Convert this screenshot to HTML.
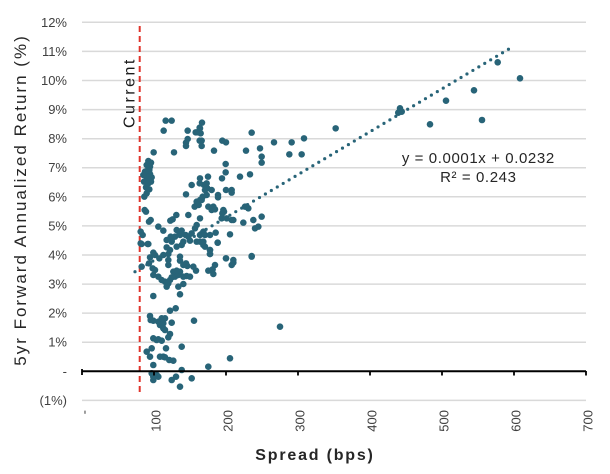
<!DOCTYPE html>
<html><head><meta charset="utf-8"><style>
html,body{margin:0;padding:0;background:#fff;}
svg{display:block;font-family:"Liberation Sans",Arial,sans-serif;}
</style></head><body>
<svg width="610" height="474" viewBox="0 0 610 474" xmlns="http://www.w3.org/2000/svg">
<g stroke="#d9d9d9" stroke-width="1.5">
<line x1="82" x2="586" y1="22.3" y2="22.3"/>
<line x1="82" x2="586" y1="51.4" y2="51.4"/>
<line x1="82" x2="586" y1="80.5" y2="80.5"/>
<line x1="82" x2="586" y1="109.6" y2="109.6"/>
<line x1="82" x2="586" y1="138.7" y2="138.7"/>
<line x1="82" x2="586" y1="167.7" y2="167.7"/>
<line x1="82" x2="586" y1="196.8" y2="196.8"/>
<line x1="82" x2="586" y1="225.9" y2="225.9"/>
<line x1="82" x2="586" y1="255" y2="255"/>
<line x1="82" x2="586" y1="284.1" y2="284.1"/>
<line x1="82" x2="586" y1="313.1" y2="313.1"/>
<line x1="82" x2="586" y1="342.2" y2="342.2"/>
<line x1="82" x2="586" y1="400.4" y2="400.4"/>
</g>
<g font-size="13" fill="#404040" text-anchor="end">
<text x="67" y="26.8">12%</text>
<text x="67" y="55.9">11%</text>
<text x="67" y="85">10%</text>
<text x="67" y="114.1">9%</text>
<text x="67" y="143.2">8%</text>
<text x="67" y="172.2">7%</text>
<text x="67" y="201.3">6%</text>
<text x="67" y="230.4">5%</text>
<text x="67" y="259.5">4%</text>
<text x="67" y="288.6">3%</text>
<text x="67" y="317.6">2%</text>
<text x="67" y="346.7">1%</text>
<text x="67" y="375.8">-</text>
<text x="67" y="404.9">(1%)</text>
</g>
<g font-size="13" fill="#404040" text-anchor="end">
<text transform="translate(88.5,410) rotate(-90)">-</text>
<text transform="translate(160.5,410) rotate(-90)">100</text>
<text transform="translate(232.5,410) rotate(-90)">200</text>
<text transform="translate(304.5,410) rotate(-90)">300</text>
<text transform="translate(376.5,410) rotate(-90)">400</text>
<text transform="translate(448.5,410) rotate(-90)">500</text>
<text transform="translate(520.5,410) rotate(-90)">600</text>
<text transform="translate(592.5,410) rotate(-90)">700</text>
</g>
<text x="315" y="460" font-size="16" font-weight="bold" letter-spacing="1.8" fill="#262626" text-anchor="middle">Spread (bps)</text>
<text transform="translate(26,200) rotate(-90)" font-size="17" letter-spacing="2" fill="#262626" text-anchor="middle">5yr Forward Annualized Return (%)</text>

<line x1="139.7" x2="139.7" y1="26" y2="393" stroke="#e0342b" stroke-width="2" stroke-dasharray="6 4"/>
<text transform="translate(134.5,128) rotate(-90)" font-size="16" letter-spacing="2.5" fill="#1a1a1a">Current</text>

<g fill="#286478">
<g transform="translate(100,100) scale(0.33333)">
<circle cx="197" cy="62" r="9.8"/><circle cx="215" cy="62" r="9.8"/><circle cx="191" cy="92" r="9.8"/><circle cx="222" cy="157" r="9.8"/><circle cx="161" cy="157" r="9.8"/><circle cx="299" cy="83" r="9.8"/><circle cx="291" cy="97" r="9.8"/><circle cx="263" cy="92" r="9.8"/><circle cx="287" cy="97" r="9.8"/><circle cx="263" cy="117" r="9.8"/><circle cx="258" cy="128" r="9.8"/><circle cx="258" cy="138" r="9.8"/><circle cx="299" cy="122" r="9.8"/>
<circle cx="145" cy="183" r="9.8"/><circle cx="153" cy="188" r="9.8"/><circle cx="140" cy="195" r="9.8"/><circle cx="148" cy="210" r="9.8"/><circle cx="137" cy="218" r="9.8"/><circle cx="150" cy="222" r="9.8"/><circle cx="140" cy="230" r="9.8"/><circle cx="155" cy="232" r="9.8"/><circle cx="132" cy="245" r="9.8"/><circle cx="145" cy="250" r="9.8"/><circle cx="138" cy="262" r="9.8"/><circle cx="148" cy="268" r="9.8"/><circle cx="140" cy="280" r="9.8"/><circle cx="133" cy="290" r="9.8"/><circle cx="142" cy="212" r="9.8"/><circle cx="153" cy="245" r="9.8"/><circle cx="135" cy="215" r="9.8"/><circle cx="145" cy="240" r="9.8"/><circle cx="150" cy="200" r="9.8"/><circle cx="130" cy="225" r="9.8"/>
<circle cx="299" cy="250" r="9.8"/><circle cx="275" cy="255" r="9.8"/><circle cx="258" cy="283" r="9.8"/><circle cx="300" cy="300" r="9.8"/><circle cx="290" cy="305" r="9.8"/><circle cx="284" cy="320" r="9.8"/><circle cx="296" cy="315" r="9.8"/>
<circle cx="265" cy="345" r="9.8"/><circle cx="218" cy="358" r="9.8"/><circle cx="211" cy="362" r="9.8"/><circle cx="229" cy="345" r="9.8"/><circle cx="134" cy="330" r="9.8"/><circle cx="138" cy="335" r="9.8"/><circle cx="147" cy="365" r="9.8"/><circle cx="152" cy="360" r="9.8"/><circle cx="175" cy="380" r="9.8"/><circle cx="190" cy="392" r="9.8"/>
<circle cx="230" cy="390" r="9.8"/><circle cx="245" cy="392" r="9.8"/><circle cx="238" cy="397" r="9.8"/><circle cx="240" cy="405" r="9.8"/><circle cx="225" cy="410" r="9.8"/><circle cx="212" cy="410" r="9.8"/><circle cx="215" cy="420" r="9.8"/><circle cx="200" cy="420" r="9.8"/><circle cx="257" cy="405" r="9.8"/><circle cx="265" cy="410" r="9.8"/><circle cx="275" cy="400" r="9.8"/><circle cx="285" cy="385" r="9.8"/><circle cx="290" cy="375" r="9.8"/><circle cx="300" cy="405" r="9.8"/>
<circle cx="122" cy="395" r="9.8"/><circle cx="128" cy="405" r="9.8"/><circle cx="122" cy="430" r="9.8"/><circle cx="143" cy="432" r="9.8"/>
</g>
<g transform="translate(100,240) scale(0.33333)">
<circle cx="125" cy="12" r="9.8"/><circle cx="145" cy="12" r="9.8"/><circle cx="160" cy="38" r="9.8"/><circle cx="150" cy="52" r="9.8"/><circle cx="165" cy="45" r="9.8"/><circle cx="178" cy="55" r="9.8"/><circle cx="190" cy="45" r="9.8"/><circle cx="205" cy="42" r="9.8"/><circle cx="210" cy="30" r="9.8"/><circle cx="200" cy="22" r="9.8"/><circle cx="205" cy="60" r="9.8"/><circle cx="205" cy="75" r="9.8"/><circle cx="215" cy="5" r="9.8"/><circle cx="230" cy="20" r="9.8"/><circle cx="245" cy="15" r="9.8"/><circle cx="250" cy="5" r="9.8"/><circle cx="270" cy="2" r="9.8"/><circle cx="290" cy="5" r="9.8"/><circle cx="300" cy="5" r="9.8"/><circle cx="310" cy="15" r="9.8"/><circle cx="330" cy="30" r="9.8"/><circle cx="330" cy="42" r="9.8"/><circle cx="353" cy="8" r="9.8"/><circle cx="378" cy="55" r="9.8"/><circle cx="400" cy="68" r="9.8"/><circle cx="395" cy="75" r="9.8"/><circle cx="455" cy="50" r="9.8"/><circle cx="240" cy="50" r="9.8"/><circle cx="240" cy="62" r="9.8"/><circle cx="250" cy="75" r="9.8"/><circle cx="262" cy="78" r="9.8"/><circle cx="258" cy="70" r="9.8"/><circle cx="280" cy="80" r="9.8"/><circle cx="288" cy="92" r="9.8"/><circle cx="345" cy="75" r="9.8"/><circle cx="338" cy="88" r="9.8"/><circle cx="325" cy="92" r="9.8"/><circle cx="340" cy="102" r="9.8"/>
<circle cx="125" cy="80" r="9.8"/><circle cx="147" cy="70" r="9.8"/><circle cx="158" cy="85" r="9.8"/><circle cx="165" cy="90" r="9.8"/><circle cx="160" cy="105" r="9.8"/><circle cx="175" cy="110" r="9.8"/><circle cx="185" cy="120" r="9.8"/><circle cx="195" cy="125" r="9.8"/><circle cx="205" cy="130" r="9.8"/><circle cx="210" cy="120" r="9.8"/><circle cx="215" cy="112" r="9.8"/><circle cx="225" cy="110" r="9.8"/><circle cx="235" cy="105" r="9.8"/><circle cx="240" cy="95" r="9.8"/><circle cx="250" cy="110" r="9.8"/><circle cx="260" cy="108" r="9.8"/><circle cx="270" cy="110" r="9.8"/><circle cx="232" cy="100" r="9.8"/><circle cx="220" cy="95" r="9.8"/><circle cx="230" cy="92" r="9.8"/><circle cx="200" cy="140" r="9.8"/><circle cx="250" cy="132" r="9.8"/><circle cx="235" cy="140" r="9.8"/>
</g>
<g>
<circle cx="153.3" cy="296" r="3.3"/><circle cx="180" cy="294.3" r="3.3"/>
<circle cx="170" cy="310.7" r="3.3"/><circle cx="175.7" cy="308.3" r="3.3"/>
<circle cx="150" cy="316" r="3.3"/><circle cx="150.7" cy="320" r="3.3"/><circle cx="153.3" cy="320.7" r="3.3"/>
<circle cx="158.3" cy="321.7" r="3.3"/><circle cx="161.7" cy="318.3" r="3.3"/><circle cx="165" cy="318.3" r="3.3"/><circle cx="163.3" cy="323.3" r="3.3"/><circle cx="160" cy="325" r="3.3"/><circle cx="163.3" cy="328.3" r="3.3"/><circle cx="165" cy="330" r="3.3"/><circle cx="171.7" cy="322.7" r="3.3"/>
<circle cx="194" cy="320.7" r="3.3"/>
<circle cx="170" cy="334" r="3.3"/><circle cx="168.3" cy="337.3" r="3.3"/>
<circle cx="153.3" cy="338.3" r="3.3"/><circle cx="156.7" cy="340" r="3.3"/><circle cx="161.7" cy="340.7" r="3.3"/><circle cx="158.3" cy="339.3" r="3.3"/>
<circle cx="151.7" cy="348.3" r="3.3"/><circle cx="146.7" cy="351.7" r="3.3"/><circle cx="150" cy="356.7" r="3.3"/>
<circle cx="166" cy="348.3" r="3.3"/><circle cx="181.7" cy="346.7" r="3.3"/>
<circle cx="160" cy="356.7" r="3.3"/><circle cx="163.3" cy="356.7" r="3.3"/><circle cx="165" cy="357.3" r="3.3"/><circle cx="169.3" cy="360" r="3.3"/><circle cx="173.3" cy="360.7" r="3.3"/>
<circle cx="153.3" cy="365" r="3.3"/><circle cx="151.7" cy="373.3" r="3.3"/><circle cx="153.3" cy="376.7" r="3.3"/><circle cx="156.7" cy="375" r="3.3"/><circle cx="158.3" cy="376.7" r="3.3"/><circle cx="153.3" cy="380" r="3.3"/>
<circle cx="181.7" cy="370" r="3.3"/><circle cx="208.3" cy="366.7" r="3.3"/>
<circle cx="176" cy="376.7" r="3.3"/><circle cx="171.7" cy="380" r="3.3"/><circle cx="191.7" cy="378.3" r="3.3"/><circle cx="180" cy="386.7" r="3.3"/>
<circle cx="230" cy="358.3" r="3.3"/>
</g>
<g transform="translate(200,110) scale(0.33333)">
<circle cx="6" cy="38" r="9.8"/><circle cx="0" cy="55" r="9.8"/><circle cx="2" cy="70" r="9.8"/><circle cx="5" cy="92" r="9.8"/><circle cx="5" cy="108" r="9.8"/><circle cx="155" cy="68" r="9.8"/><circle cx="407" cy="55" r="9.8"/><circle cx="312" cy="85" r="9.8"/><circle cx="275" cy="97" r="9.8"/><circle cx="222" cy="97" r="9.8"/><circle cx="67" cy="92" r="9.8"/><circle cx="78" cy="97" r="9.8"/><circle cx="42" cy="122" r="9.8"/><circle cx="138" cy="122" r="9.8"/><circle cx="180" cy="115" r="9.8"/><circle cx="185" cy="140" r="9.8"/><circle cx="185" cy="158" r="9.8"/><circle cx="268" cy="133" r="9.8"/><circle cx="305" cy="133" r="9.8"/><circle cx="77" cy="162" r="9.8"/><circle cx="77" cy="187" r="9.8"/><circle cx="120" cy="200" r="9.8"/><circle cx="150" cy="193" r="9.8"/><circle cx="66" cy="205" r="9.8"/><circle cx="24" cy="200" r="9.8"/><circle cx="0" cy="205" r="9.8"/><circle cx="20" cy="220" r="9.8"/><circle cx="12" cy="225" r="9.8"/><circle cx="22" cy="235" r="9.8"/><circle cx="35" cy="240" r="9.8"/><circle cx="15" cy="240" r="9.8"/><circle cx="8" cy="260" r="9.8"/><circle cx="20" cy="255" r="9.8"/><circle cx="5" cy="270" r="9.8"/><circle cx="54" cy="255" r="9.8"/><circle cx="54" cy="262" r="9.8"/><circle cx="78" cy="240" r="9.8"/><circle cx="95" cy="240" r="9.8"/><circle cx="95" cy="248" r="9.8"/>
<circle cx="25" cy="290" r="9.8"/><circle cx="40" cy="290" r="9.8"/><circle cx="45" cy="298" r="9.8"/><circle cx="35" cy="300" r="9.8"/><circle cx="70" cy="300" r="9.8"/><circle cx="72" cy="305" r="9.8"/><circle cx="67" cy="310" r="9.8"/><circle cx="65" cy="325" r="9.8"/><circle cx="80" cy="325" r="9.8"/><circle cx="95" cy="330" r="9.8"/><circle cx="100" cy="330" r="9.8"/><circle cx="0" cy="325" r="9.8"/><circle cx="10" cy="365" r="9.8"/><circle cx="15" cy="375" r="9.8"/><circle cx="30" cy="375" r="9.8"/><circle cx="47" cy="368" r="9.8"/><circle cx="130" cy="338" r="9.8"/><circle cx="160" cy="330" r="9.8"/><circle cx="185" cy="320" r="9.8"/><circle cx="165" cy="355" r="9.8"/><circle cx="175" cy="350" r="9.8"/><circle cx="90" cy="373" r="9.8"/><circle cx="53" cy="398" r="9.8"/><circle cx="10" cy="395" r="9.8"/><circle cx="15" cy="410" r="9.8"/><circle cx="30" cy="420" r="9.8"/><circle cx="30" cy="432" r="9.8"/><circle cx="78" cy="445" r="9.8"/><circle cx="155" cy="438" r="9.8"/><circle cx="100" cy="450" r="9.8"/><circle cx="140" cy="290" r="9.8"/><circle cx="145" cy="295" r="9.8"/><circle cx="135" cy="290" r="9.8"/>
</g>
<circle cx="400" cy="108.3" r="3.3"/><circle cx="401.7" cy="111.7" r="3.3"/><circle cx="398.3" cy="112.7" r="3.3"/><circle cx="430" cy="124.3" r="3.3"/><circle cx="446" cy="100.7" r="3.3"/><circle cx="474" cy="90.3" r="3.3"/><circle cx="482" cy="120" r="3.3"/><circle cx="497.7" cy="62.3" r="3.3"/><circle cx="520" cy="78.3" r="3.3"/><circle cx="280" cy="326.7" r="3.3"/>
</g>

<line x1="135" y1="271.7" x2="512.7" y2="46.7" stroke="#286478" stroke-width="3.2" stroke-linecap="round" stroke-dasharray="0 6.9"/>

<line x1="82" x2="586" y1="371.3" y2="371.3" stroke="#000" stroke-width="2"/>
<g stroke="#000" stroke-width="1.8">
<line x1="82" x2="82" y1="369" y2="375"/>
<line x1="154" x2="154" y1="371" y2="375.5"/>
<line x1="226" x2="226" y1="371" y2="375.5"/>
<line x1="298" x2="298" y1="371" y2="375.5"/>
<line x1="370" x2="370" y1="371" y2="375.5"/>
<line x1="442" x2="442" y1="371" y2="375.5"/>
<line x1="514" x2="514" y1="371" y2="375.5"/>
<line x1="586" x2="586" y1="371" y2="375.5"/>
</g>

<g font-size="15" fill="#262626" text-anchor="middle" letter-spacing="0.6">
<text x="478.3" y="163">y = 0.0001x + 0.0232</text>
<text x="478.3" y="182">R² = 0.243</text>
</g>
</svg>
</body></html>
